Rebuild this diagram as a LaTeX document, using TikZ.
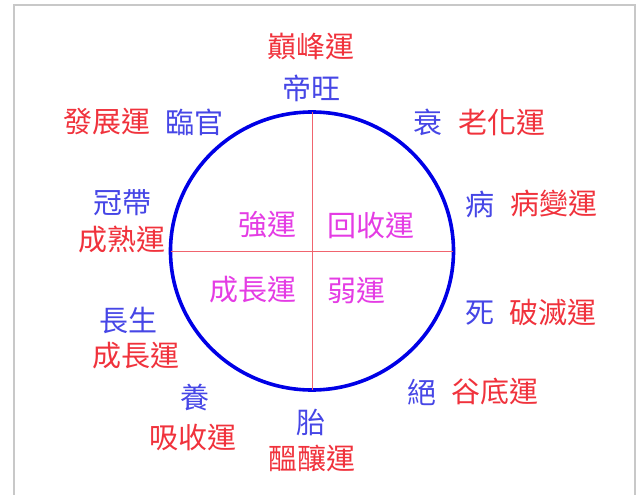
\documentclass[tikz,border=0pt]{standalone}
\usepackage{fontspec}
\setmainfont{Noto Sans CJK TC}
\usetikzlibrary{shapes.geometric}
\usetikzlibrary{positioning}
\definecolor{luckred}{RGB}{240,50,60}
\definecolor{stageblue}{RGB}{70,70,230}
\definecolor{phasepink}{RGB}{228,60,228}
\definecolor{ringblue}{RGB}{0,0,230}
\definecolor{crossred}{RGB}{240,100,110}
\definecolor{framegray}{RGB}{200,200,200}

\begin{document}
\begin{tikzpicture}[x=1pt,y=-1pt,
    txt/.style={inner sep=0pt, font=\fontsize{29}{34}\selectfont},
    luck/.style={txt, text=luckred},
    stage/.style={txt, text=stageblue},
    phase/.style={txt, text=phasepink}]
            \useasboundingbox (0,0) rectangle (640,495);
            % frame
            \draw[framegray, line width=2pt] (13.5,495) -- (13.5,5) -- (635,5) -- (635,495);

            % wheel
            \node[draw=ringblue, line width=3.6pt, ellipse, minimum width=283pt, minimum height=278pt, inner sep=0pt] (wheel) at (312,251) {};
            \draw[crossred, line width=1pt, shorten <=2pt, shorten >=2pt] (wheel.north) -- (wheel.south);
            \draw[crossred, line width=1pt, shorten <=2pt, shorten >=2pt] (wheel.west) -- (wheel.east);

            % inner phases
            \node[phase] (strong) at (267,225) {強運};
            \node[phase] (recover) at (371,225) {回收運};
            \node[phase] (grow) at (253,290) {成長運};
            \node[phase] (weak) at (356,290) {弱運};

            % twelve stages
            \node[luck] (peakluck) at (311,47) {巔峰運};
            \node[stage] (peak) at (311,88) {帝旺};
            \node[luck] (riseluck) at (107,122) {發展運};
            \node[stage] (rise) at (194,122) {臨官};
            \node[stage] (decline) at (428,122) {衰};
            \node[luck] (declineluck) at (502,122) {老化運};
            \node[stage] (crown) at (122,203) {冠帶};
            \node[luck] (crownluck) at (122,240) {成熟運};
            \node[stage] (sick) at (480,204) {病};
            \node[luck] (sickluck) at (554,204) {病變運};
            \node[stage] (death) at (480,313) {死};
            \node[luck] (deathluck) at (553,313) {破滅運};
            \node[stage] (birth) at (128,320) {長生};
            \node[luck] (birthluck) at (136,356) {成長運};
            \node[stage] (nurture) at (195,398) {養};
            \node[luck] (nurtureluck) at (193,437) {吸收運};
            \node[stage] (womb) at (311,422) {胎};
            \node[luck] (wombluck) at (312,458) {醞釀運};
            \node[stage] (void) at (422,392) {絕};
            \node[luck] (voidluck) at (495,392) {谷底運};
        \end{tikzpicture}
\end{document}
